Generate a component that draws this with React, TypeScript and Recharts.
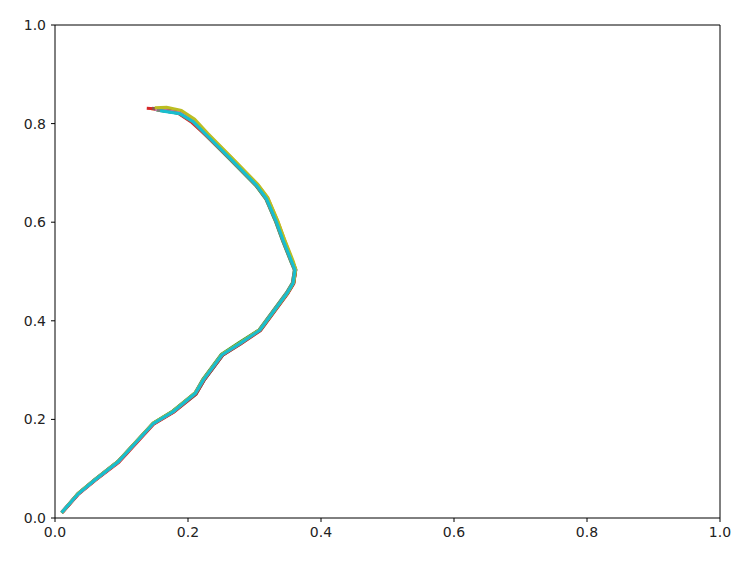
import { LineChart, Line, XAxis, YAxis, ReferenceLine } from "recharts";

// tab10 colours, one per run
const colors = [
  "#1f77b4", "#ff7f0e", "#2ca02c", "#d62728", "#9467bd",
  "#8c564b", "#e377c2", "#7f7f7f", "#bcbd22", "#17becf"
];

const ticks = [0, 0.2, 0.4, 0.6, 0.8, 1.0];

// each run: [x, y] pairs
const run0: [number, number][] = [
  [0.010, 0.011], [0.036, 0.050], [0.061, 0.078], [0.096, 0.115], [0.149, 0.193],
  [0.179, 0.217], [0.212, 0.252], [0.224, 0.279], [0.252, 0.330], [0.279, 0.355],
  [0.309, 0.382], [0.350, 0.457], [0.359, 0.477], [0.362, 0.504], [0.357, 0.521],
  [0.344, 0.565], [0.334, 0.602], [0.319, 0.649], [0.304, 0.676], [0.264, 0.731],
  [0.229, 0.778], [0.209, 0.805], [0.188, 0.821], [0.150, 0.829]
];
const run1: [number, number][] = [
  [0.011, 0.012], [0.035, 0.049], [0.060, 0.076], [0.094, 0.113], [0.147, 0.191],
  [0.178, 0.215], [0.210, 0.252], [0.224, 0.280], [0.252, 0.331], [0.279, 0.355],
  [0.309, 0.383], [0.350, 0.457], [0.359, 0.477], [0.362, 0.504], [0.357, 0.521],
  [0.345, 0.565], [0.335, 0.602], [0.320, 0.649], [0.305, 0.676], [0.265, 0.731],
  [0.230, 0.778], [0.209, 0.806], [0.189, 0.824], [0.145, 0.830]
];
const run2: [number, number][] = [
  [0.010, 0.010], [0.034, 0.049], [0.059, 0.077], [0.095, 0.115], [0.148, 0.193],
  [0.177, 0.217], [0.211, 0.254], [0.222, 0.281], [0.250, 0.332], [0.277, 0.356],
  [0.307, 0.382], [0.348, 0.457], [0.357, 0.477], [0.360, 0.503], [0.355, 0.519],
  [0.342, 0.563], [0.332, 0.600], [0.317, 0.647], [0.302, 0.674], [0.262, 0.729],
  [0.227, 0.776], [0.207, 0.803], [0.186, 0.821], [0.152, 0.828]
];
const run3: [number, number][] = [
  [0.011, 0.011], [0.036, 0.049], [0.061, 0.077], [0.096, 0.113], [0.149, 0.191],
  [0.179, 0.215], [0.212, 0.251], [0.224, 0.279], [0.252, 0.330], [0.279, 0.353],
  [0.309, 0.380], [0.350, 0.455], [0.359, 0.475], [0.362, 0.502], [0.357, 0.519],
  [0.344, 0.563], [0.334, 0.600], [0.319, 0.647], [0.303, 0.674], [0.263, 0.729],
  [0.227, 0.776], [0.206, 0.802], [0.184, 0.822], [0.160, 0.829], [0.138, 0.831]
];
const run4: [number, number][] = [
  [0.010, 0.012], [0.035, 0.050], [0.060, 0.078], [0.095, 0.115], [0.148, 0.192],
  [0.178, 0.216], [0.211, 0.253], [0.223, 0.280], [0.251, 0.331], [0.278, 0.354],
  [0.308, 0.381], [0.349, 0.456], [0.358, 0.477], [0.361, 0.504], [0.357, 0.521],
  [0.344, 0.565], [0.334, 0.602], [0.319, 0.649], [0.304, 0.676], [0.264, 0.731],
  [0.229, 0.778], [0.208, 0.805], [0.187, 0.823], [0.148, 0.830]
];
const run5: [number, number][] = [
  [0.011, 0.011], [0.035, 0.049], [0.060, 0.077], [0.095, 0.114], [0.148, 0.191],
  [0.178, 0.215], [0.212, 0.251], [0.224, 0.279], [0.252, 0.330], [0.279, 0.353],
  [0.309, 0.381], [0.350, 0.456], [0.359, 0.476], [0.362, 0.503], [0.357, 0.520],
  [0.344, 0.564], [0.334, 0.601], [0.319, 0.648], [0.304, 0.675], [0.264, 0.730],
  [0.229, 0.777], [0.208, 0.804], [0.186, 0.824], [0.146, 0.831]
];
const run6: [number, number][] = [
  [0.010, 0.011], [0.035, 0.049], [0.060, 0.077], [0.095, 0.114], [0.148, 0.192],
  [0.178, 0.216], [0.211, 0.253], [0.223, 0.280], [0.251, 0.331], [0.278, 0.354],
  [0.308, 0.382], [0.349, 0.457], [0.358, 0.477], [0.361, 0.503], [0.356, 0.520],
  [0.343, 0.564], [0.333, 0.601], [0.318, 0.648], [0.303, 0.675], [0.263, 0.730],
  [0.228, 0.777], [0.208, 0.805], [0.187, 0.822], [0.151, 0.829]
];
const run7: [number, number][] = [
  [0.010, 0.011], [0.034, 0.049], [0.059, 0.077], [0.094, 0.114], [0.147, 0.192],
  [0.177, 0.216], [0.210, 0.253], [0.222, 0.280], [0.250, 0.331], [0.277, 0.354],
  [0.307, 0.381], [0.348, 0.456], [0.357, 0.476], [0.360, 0.503], [0.355, 0.520],
  [0.342, 0.564], [0.332, 0.601], [0.317, 0.648], [0.302, 0.675], [0.262, 0.730],
  [0.227, 0.777], [0.207, 0.804], [0.186, 0.821], [0.153, 0.828]
];
const run8: [number, number][] = [
  [0.010, 0.011], [0.035, 0.050], [0.060, 0.078], [0.095, 0.115], [0.148, 0.193],
  [0.178, 0.217], [0.211, 0.254], [0.223, 0.281], [0.251, 0.332], [0.278, 0.355],
  [0.309, 0.383], [0.350, 0.457], [0.359, 0.478], [0.362, 0.505], [0.358, 0.522],
  [0.345, 0.566], [0.335, 0.603], [0.320, 0.650], [0.305, 0.677], [0.265, 0.732],
  [0.230, 0.780], [0.210, 0.809], [0.190, 0.827], [0.168, 0.833], [0.150, 0.832]
];
const run9: [number, number][] = [
  [0.010, 0.011], [0.035, 0.049], [0.060, 0.077], [0.095, 0.114], [0.148, 0.192],
  [0.178, 0.216], [0.211, 0.253], [0.223, 0.280], [0.251, 0.331], [0.278, 0.354],
  [0.308, 0.381], [0.349, 0.456], [0.358, 0.476], [0.361, 0.503], [0.356, 0.520],
  [0.343, 0.564], [0.333, 0.601], [0.318, 0.648], [0.303, 0.675], [0.263, 0.730],
  [0.228, 0.777], [0.208, 0.804], [0.188, 0.820], [0.158, 0.826]
];

const runs = [run0, run1, run2, run3, run4, run5, run6, run7, run8, run9];

const tickStyle = { fontSize: 14, fill: "#222", fontFamily: "DejaVu Sans" };

const App = () => {
  return (
    <div style={{ position: "absolute", left: 0, top: 0, background: "#fff" }}>
      <LineChart
        width={750}
        height={563}
        margin={{ top: 25, right: 30, bottom: 0, left: 0 }}
      >
        <XAxis
          type="number"
          dataKey="x"
          domain={[0, 1]}
          ticks={ticks}
          tickFormatter={(v: number) => v.toFixed(1)}
          tick={tickStyle}
          tickSize={4}
          tickMargin={5}
          height={45}
          axisLine={{ stroke: "#000", strokeWidth: 1 }}
          tickLine={{ stroke: "#000", strokeWidth: 1 }}
          allowDataOverflow
        />
        <YAxis
          type="number"
          dataKey="y"
          domain={[0, 1]}
          ticks={ticks}
          tickFormatter={(v: number) => v.toFixed(1)}
          tick={tickStyle}
          tickSize={4}
          tickMargin={5}
          width={55}
          axisLine={{ stroke: "#000", strokeWidth: 1 }}
          tickLine={{ stroke: "#000", strokeWidth: 1 }}
          allowDataOverflow
        />
        {/* top and right spines */}
        <ReferenceLine y={1} stroke="#000" strokeWidth={1} />
        <ReferenceLine x={1} stroke="#000" strokeWidth={1} />
        {runs.map((run, i) => (
          <Line
            key={i}
            data={run.map(([x, y]) => ({ x, y }))}
            dataKey="y"
            type="linear"
            stroke={colors[i]}
            strokeWidth={3}
            dot={false}
            activeDot={false}
            isAnimationActive={false}
          />
        ))}
      </LineChart>
    </div>
  );
};

export default App;
